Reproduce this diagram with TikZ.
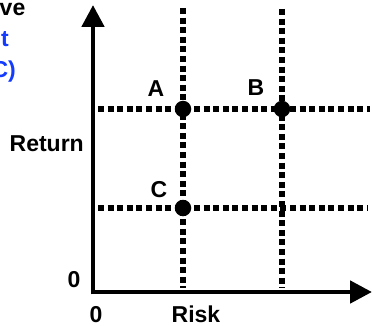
\documentclass[tikz,border=0pt]{standalone}
\usepackage{fontspec}
\setmainfont{Liberation Sans}
\usetikzlibrary{arrows.meta}
\definecolor{tblue}{RGB}{20,60,255}
\begin{document}
\begin{tikzpicture}[x=1pt,y=-1pt,
  lbl/.style={font=\fontsize{23}{27}\selectfont\bfseries, inner sep=0pt},
  axis/.style={line width=4.8pt, line join=miter, -{Triangle[width=22pt,length=22pt]}},
  grid/.style={line width=6pt, dash pattern=on 6pt off 3.6pt},
  pt/.style={circle, fill=black, minimum size=16.5pt, inner sep=0pt}]
\useasboundingbox (0,0) rectangle (372,326);
\begin{scope}
\clip (0,0) rectangle (372,326);
% cropped title fragments
\node[lbl, anchor=base east] (t1) at (25.5,16) {ve};
\node[lbl, anchor=base east, text=tblue] (t2) at (9,47) {t};
\node[lbl, anchor=base east, text=tblue] (t3) at (16,78) {C)};
\end{scope}
% coordinates
\coordinate (O) at (93,292);
\coordinate (Ytip) at (93,5);
\coordinate (Xtip) at (372,292);
\coordinate (v1t) at (183,8);
\coordinate (v1b) at (183,288);
\coordinate (v2t) at (282,9);
\coordinate (v2b) at (282,288);
\coordinate (h1l) at (98,109);
\coordinate (h1r) at (370,109);
\coordinate (h2l) at (98,208);
\coordinate (h2r) at (368,208);
% dotted guide lines
\draw[grid] (v1t) -- (v1b);
\draw[grid] (v2t) -- (v2b);
\draw[grid] (h1l) -- (h1r);
\draw[grid] (h2l) -- (h2r);
\node[pt] (A) at (183,109) {};
\node[pt] (B) at (282,109) {};
\node[pt] (C) at (183,208) {};
% axes
\draw[axis] (93,294.4) -- (Ytip);
\draw[axis] (O) -- (Xtip);
% labels
\node[lbl, anchor=base] (la) at (156,97) {A};
\node[lbl, anchor=base] (lb) at (256,96) {B};
\node[lbl, anchor=base] (lc) at (159,197) {C};
\node[lbl, anchor=base east] (ret) at (84,152) {Return};
\node[lbl, anchor=base] (z1) at (74,287) {0};
\node[lbl, anchor=base] (z2) at (96,322) {0};
\node[lbl, anchor=base] (risk) at (196,322) {Risk};
\end{tikzpicture}
\end{document}
